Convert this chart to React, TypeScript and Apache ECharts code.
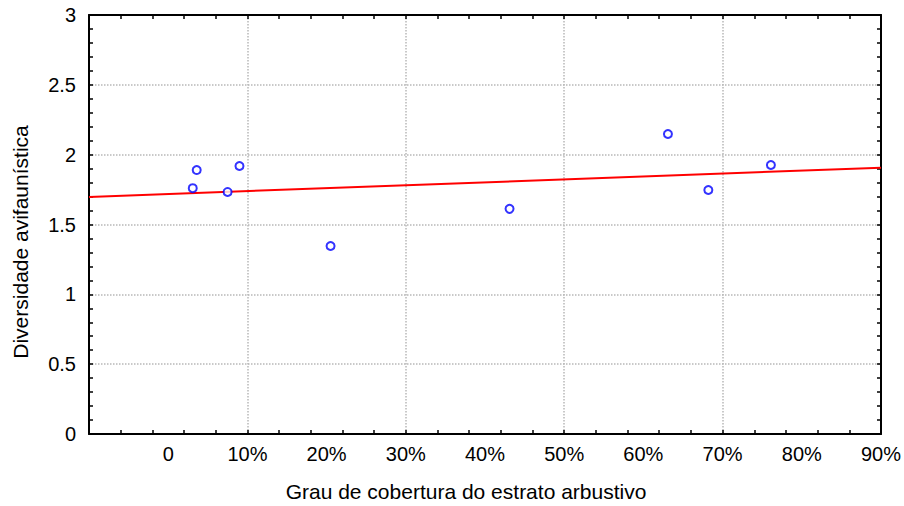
import React, { useEffect, useRef } from "react";
import * as echarts from "echarts";

// Data (x in % of shrub cover, y = diversity index)
const coverPct: number[] = [3.1, 3.6, 7.5, 9.0, 20.5, 43.1, 63.1, 68.2, 76.1];
const diversity: number[] = [1.76, 1.89, 1.733, 1.919, 1.346, 1.612, 2.148, 1.747, 1.926];

const xTitle = "Grau de cobertura do estrato arbustivo";
const yTitle = "Diversidade avifaunística";

// visible x range in %
const X_MIN = -10;
const X_MAX = 90;
const Y_MIN = 0;
const Y_MAX = 3;

// internal axis coordinate = pct - X_MIN so that ticks are counted from 0
const toAxis = (pct: number) => pct - X_MIN;

function linearFit(xs: number[], ys: number[]) {
  const n = xs.length;
  const mx = xs.reduce((a, b) => a + b, 0) / n;
  const my = ys.reduce((a, b) => a + b, 0) / n;
  let sxy = 0;
  let sxx = 0;
  for (let i = 0; i < n; i++) {
    sxy += (xs[i] - mx) * (ys[i] - my);
    sxx += (xs[i] - mx) * (xs[i] - mx);
  }
  const slope = sxy / sxx;
  return { slope, intercept: my - slope * mx };
}

export default function App() {
  const ref = useRef<HTMLDivElement>(null);

  useEffect(() => {
    if (!ref.current) return;
    const chart = echarts.init(ref.current, undefined, { renderer: "svg" });
    const font = "'Liberation Sans', Arial, sans-serif";
    const fit = linearFit(coverPct, diversity);
    const fitLine = [X_MIN, X_MAX].map((x) => [toAxis(x), fit.intercept + fit.slope * x]);
    const points = coverPct.map((x, i) => [toAxis(x), diversity[i]]);

    const A_MIN = 0;
    const A_MAX = X_MAX - X_MIN;

    const axisLine = { show: true, onZero: false, lineStyle: { color: "#000", width: 2 } };
    const tick = { show: true, inside: true, length: 4, lineStyle: { color: "#000", width: 1.5 } };
    const minor = { show: true, splitNumber: 5, length: 4, lineStyle: { color: "#000", width: 1.5 } };
    const gridStyle = { show: true, lineStyle: { color: "#b8b8b8", type: "dotted" as const, width: 1.5 } };

    chart.setOption({
      animation: false,
      backgroundColor: "#fff",
      grid: { left: 89, right: 21, top: 15, bottom: 72, containLabel: false },
      xAxis: [
        {
          type: "value",
          min: A_MIN,
          max: A_MAX,
          interval: 10,
          position: "bottom",
          axisLine: { show: false, onZero: false },
          axisTick: { show: false },
          splitLine: { show: false },
          axisLabel: {
            show: true,
            margin: 10,
            fontSize: 20,
            fontFamily: font,
            color: "#000",
            formatter: (v: number) => {
              const p = Math.round(v + X_MIN);
              return p === X_MIN ? "" : p === 0 ? "0" : `${p}%`;
            },
          },
        },
        {
          type: "value",
          min: A_MIN,
          max: A_MAX,
          interval: 20,
          position: "bottom",
          axisLine,
          axisTick: tick,
          minorTick: minor,
          splitLine: gridStyle,
          axisLabel: { show: false },
        },
        {
          type: "value",
          min: A_MIN,
          max: A_MAX,
          interval: 20,
          position: "top",
          axisLine,
          axisTick: tick,
          minorTick: minor,
          splitLine: { show: false },
          axisLabel: { show: false },
        },
      ],
      yAxis: [
        {
          type: "value",
          min: Y_MIN,
          max: Y_MAX,
          interval: 0.5,
          position: "left",
          axisLine,
          axisTick: tick,
          minorTick: minor,
          splitLine: gridStyle,
          axisLabel: {
            show: true,
            margin: 13,
            fontSize: 20,
            fontFamily: font,
            color: "#000",
          },
        },
        {
          type: "value",
          min: Y_MIN,
          max: Y_MAX,
          interval: 0.5,
          position: "right",
          axisLine,
          axisTick: tick,
          minorTick: minor,
          splitLine: { show: false },
          axisLabel: { show: false },
        },
      ],
      graphic: [
        {
          type: "text",
          x: 466,
          y: 491,
          style: {
            text: xTitle,
            font: `21px ${font}`,
            fill: "#000",
            align: "center",
            verticalAlign: "middle",
          },
        },
        {
          type: "text",
          x: 20,
          y: 242,
          rotation: Math.PI / 2,
          style: {
            text: yTitle,
            font: `21px ${font}`,
            fill: "#000",
            align: "center",
            verticalAlign: "middle",
          },
        },
      ],
      series: [
        {
          type: "line",
          data: fitLine,
          xAxisIndex: 0,
          yAxisIndex: 0,
          showSymbol: false,
          symbol: "none",
          lineStyle: { color: "#ff0000", width: 2 },
          z: 3,
        },
        {
          type: "scatter",
          data: points,
          xAxisIndex: 0,
          yAxisIndex: 0,
          symbol: "circle",
          symbolSize: 8,
          itemStyle: { color: "#fff", borderColor: "#0000ff", borderWidth: 2 },
          z: 4,
        },
      ],
    });

    return () => chart.dispose();
  }, []);

  return (
    <div
      ref={ref}
      style={{ position: "fixed", left: 0, top: 0, width: 904, height: 506, background: "#fff" }}
    />
  );
}
